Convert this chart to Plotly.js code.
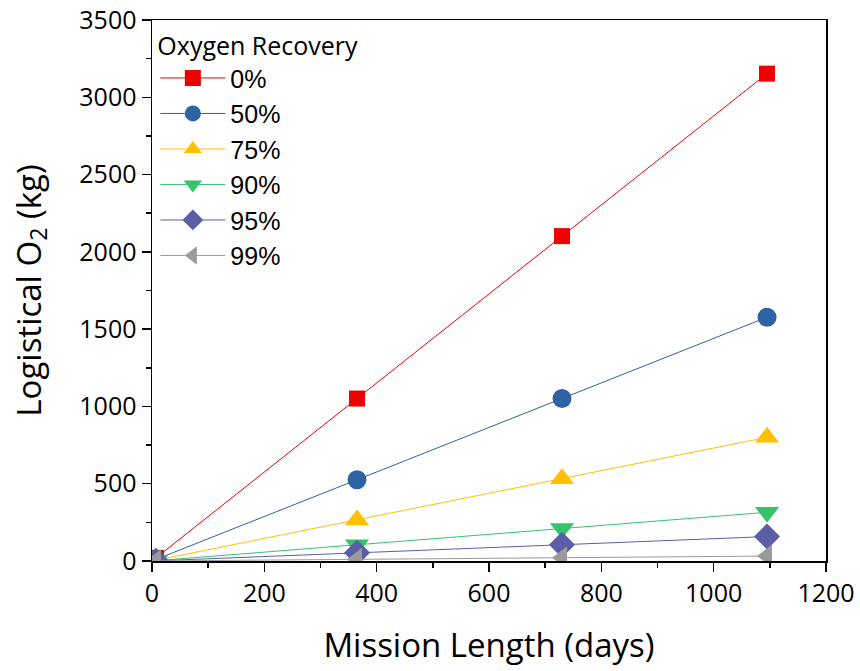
<!DOCTYPE html>
<html><head><meta charset="utf-8">
<script src="https://cdn.plot.ly/plotly-3.0.1.min.js"></script>
<style>body{margin:0;background:#fff}#c{width:860px;height:671px}</style>
</head><body><div id="c"></div>
<script>
var days = [7, 365, 730, 1095];
var names = ["0%", "50%", "75%", "90%", "95%", "99%"];
var o2_0 = [20, 1051, 2102, 3153];
var o2_50 = [10, 526, 1051, 1577];
var o2_75 = [5, 265, 532, 800];
var o2_90 = [2, 105, 210, 315];
var o2_95 = [1, 53, 105, 158];
var o2_99 = [0.2, 11, 21, 32];
var series = [o2_0, o2_50, o2_75, o2_90, o2_95, o2_99];
var colors = ["#ee0000", "#2d62a3", "#ffc000", "#35c46c", "#5b5ea6", "#9a9a9a"];
var symbols = ["square", "circle", "triangle-up", "triangle-down", "diamond", "triangle-left"];
var sizes = [16, 19, 21, 21, 20, 20];
var traces = series.map(function(v, i){
  return {x: days, y: v, name: names[i], type: "scatter", mode: "lines+markers",
    line: {color: colors[i], width: 1},
    marker: {color: colors[i], symbol: symbols[i], size: sizes[i]}};
});
var sans = "Open Sans, Noto Sans, sans-serif";
var tickFont = {family: sans, size: 25, color: "#000"};
var layout = {
  width: 860, height: 671,
  margin: {l: 152, r: 34, t: 20, b: 110},
  paper_bgcolor: "#fff", plot_bgcolor: "#fff",
  showlegend: true,
  legend: {x: 0.005, y: 0.995, xanchor: "left", yanchor: "top",
    bgcolor: "rgba(0,0,0,0)", tracegroupgap: 0, itemwidth: 65,
    font: {family: "Liberation Sans, Arial, sans-serif", size: 25, color: "#000"},
    title: {text: "Oxygen Recovery", font: {family: sans, size: 25, color: "#000"}}},
  xaxis: {range: [0, 1200], dtick: 200, showgrid: false, zeroline: false,
    showline: true, linecolor: "#000", linewidth: 1.5, mirror: true,
    ticks: "outside", ticklen: 9, tickwidth: 1.5, tickcolor: "#000",
    minor: {ticks: "outside", ticklen: 5, tickwidth: 1.5, tickcolor: "#000", dtick: 100},
    tickfont: tickFont,
    title: {text: "Mission Length (days)", standoff: 26, font: {family: sans, size: 33, color: "#000"}}},
  yaxis: {range: [0, 3500], dtick: 500, showgrid: false, zeroline: false,
    showline: true, linecolor: "#000", linewidth: 1.5, mirror: true,
    ticks: "outside", ticklen: 9, tickwidth: 1.5, tickcolor: "#000",
    minor: {ticks: "outside", ticklen: 5, tickwidth: 1.5, tickcolor: "#000", dtick: 250},
    tickfont: tickFont,
    title: {text: "Logistical O<sub>2</sub> (kg)", standoff: 28, font: {family: sans, size: 33, color: "#000"}}}
};
Plotly.newPlot("c", traces, layout, {displayModeBar: false, staticPlot: true});
</script></body></html>
